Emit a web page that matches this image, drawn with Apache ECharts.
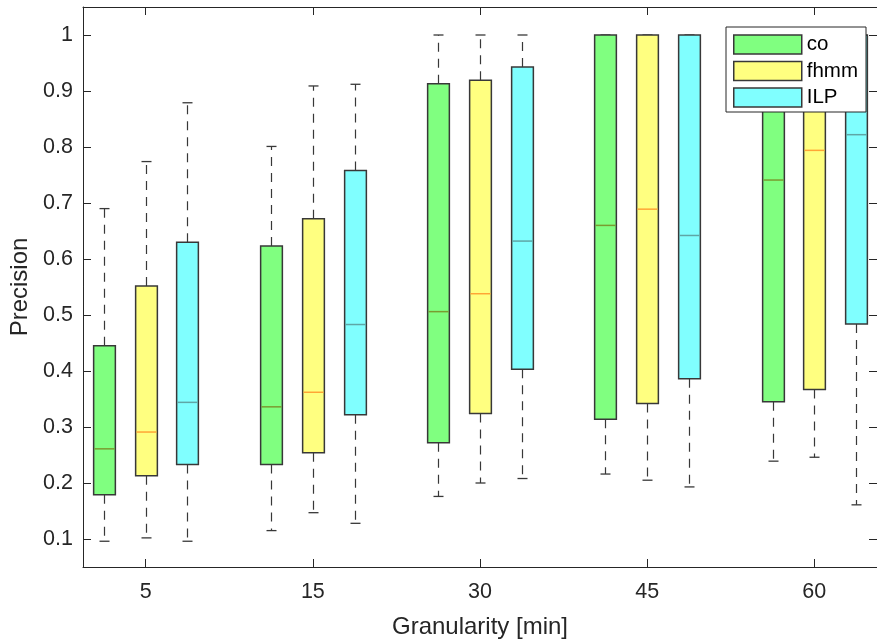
<!DOCTYPE html>
<html>
<head>
<meta charset="utf-8">
<script src="https://cdn.jsdelivr.net/npm/echarts@6/dist/echarts.min.js"></script>
<style>
html,body{margin:0;padding:0;background:#fff;}
#chart{width:877px;height:644px;}
</style>
</head>
<body>
<div id="chart"></div>
<script>
// ---- data ----
const categories = ['5', '15', '30', '45', '60'];
const seriesNames = ['co', 'fhmm', 'ILP'];
// each row: [min, q1, median, q3, max] for one granularity
const coStats = [
  [0.096, 0.179, 0.261, 0.445, 0.690],
  [0.115, 0.233, 0.336, 0.623, 0.801],
  [0.176, 0.272, 0.506, 0.913, 1.000],
  [0.216, 0.314, 0.660, 1.000, 1.000],
  [0.239, 0.345, 0.741, 1.000, 1.000]
];
const fhmmStats = [
  [0.102, 0.213, 0.291, 0.552, 0.774],
  [0.147, 0.254, 0.362, 0.672, 0.909],
  [0.200, 0.324, 0.538, 0.919, 1.000],
  [0.205, 0.342, 0.689, 1.000, 1.000],
  [0.246, 0.367, 0.794, 1.000, 1.000]
];
const ilpStats = [
  [0.096, 0.233, 0.344, 0.630, 0.879],
  [0.128, 0.322, 0.483, 0.758, 0.912],
  [0.208, 0.403, 0.632, 0.943, 1.000],
  [0.193, 0.386, 0.642, 1.000, 1.000],
  [0.161, 0.484, 0.822, 1.000, 1.000]
];
const yTicks = [0.1, 0.2, 0.3, 0.4, 0.5, 0.6, 0.7, 0.8, 0.9, 1];

// ---- styling ----
const fills = ['#80FF80', '#FFFF80', '#80FFFF'];
const medianColors = ['#7A9C30', '#FFA535', '#5FA6A6'];
const edge = '#383838';
const axisColor = '#262626';
const fontFam = '"Liberation Sans", Arial, Helvetica, sans-serif';

const allStats = [coStats, fhmmStats, ilpStats];
const slotsPerGroup = 4;
const tickPositions = categories.map((c, g) => g * slotsPerGroup + 2);
const posToLabel = {};
tickPositions.forEach((p, i) => { posToLabel[p] = categories[i]; });

function renderItem(params, api) {
  const pos = api.value(0);
  const mn = api.value(1), q1 = api.value(2), md = api.value(3), q3 = api.value(4), mx = api.value(5);
  const bw = api.size([1, 0])[0] * 0.52;
  const cw = 5;
  const pMin = api.coord([pos, mn]);
  const pQ1 = api.coord([pos, q1]);
  const pMd = api.coord([pos, md]);
  const pQ3 = api.coord([pos, q3]);
  const pMx = api.coord([pos, mx]);
  const x = Math.round(pMin[0]) + 0.5;
  const sIdx = params.seriesIndex;
  const whisk = { stroke: edge, lineWidth: 1.2, lineDash: [9, 7] };
  const cap = { stroke: edge, lineWidth: 1.3 };
  const children = [];
  if (pMx[1] < pQ3[1] - 0.5) {
    children.push({ type: 'line', shape: { x1: x, y1: pQ3[1], x2: x, y2: pMx[1] }, style: whisk });
  }
  children.push({ type: 'line', shape: { x1: x, y1: pQ1[1], x2: x, y2: pMin[1] }, style: whisk });
  children.push({ type: 'line', shape: { x1: x - cw, y1: pMx[1], x2: x + cw, y2: pMx[1] }, style: cap });
  children.push({ type: 'line', shape: { x1: x - cw, y1: pMin[1], x2: x + cw, y2: pMin[1] }, style: cap });
  children.push({
    type: 'rect',
    shape: { x: x - bw / 2, y: pQ3[1], width: bw, height: pQ1[1] - pQ3[1] },
    style: { fill: fills[sIdx], stroke: edge, lineWidth: 1.5 }
  });
  children.push({
    type: 'line',
    shape: { x1: x - bw / 2 + 0.8, y1: pMd[1], x2: x + bw / 2 - 0.8, y2: pMd[1] },
    style: { stroke: medianColors[sIdx], lineWidth: 1.5 }
  });
  return { type: 'group', children: children };
}

const series = seriesNames.map((name, s) => ({
  name: name,
  type: 'custom',
  renderItem: renderItem,
  xAxisIndex: 0,
  yAxisIndex: 0,
  itemStyle: { color: fills[s], borderColor: edge, borderWidth: 1 },
  encode: { x: 0, y: [1, 2, 3, 4, 5] },
  data: allStats[s].map((row, g) => [g * slotsPerGroup + s + 1].concat(row)),
  z: 3
}));

const chart = echarts.init(document.getElementById('chart'), null, { renderer: 'canvas' });
chart.setOption({
  animation: false,
  backgroundColor: '#ffffff',
  textStyle: { fontFamily: fontFam },
  grid: { left: 83, top: 7, width: 798, height: 560, containLabel: false },
  legend: {
    orient: 'vertical',
    left: 726,
    top: 27,
    icon: 'rect',
    itemWidth: 68,
    itemHeight: 19,
    itemGap: 5.5,
    padding: [7, 8, 4, 7],
    backgroundColor: '#ffffff',
    borderColor: '#262626',
    borderWidth: 1,
    textStyle: { fontSize: 20.5, color: '#000', fontFamily: fontFam },
    data: seriesNames.map((n, s) => ({
      name: n,
      itemStyle: { color: fills[s], borderColor: edge, borderWidth: 1.5 }
    })),
    z: 10
  },
  xAxis: [
    {
      type: 'value',
      min: 0.5,
      max: 19.5,
      position: 'bottom',
      name: 'Granularity [min]',
      nameLocation: 'middle',
      nameGap: 48,
      nameTextStyle: { fontSize: 24, color: axisColor, fontFamily: fontFam },
      axisLine: { show: true, lineStyle: { color: axisColor, width: 1 } },
      axisTick: { show: true, inside: true, length: 8, customValues: tickPositions, lineStyle: { color: axisColor } },
      axisLabel: {
        show: true, customValues: tickPositions, margin: 14,
        fontSize: 21.5, color: axisColor, fontFamily: fontFam,
        formatter: v => posToLabel[Math.round(v)] || ''
      },
      splitLine: { show: false }
    },
    {
      type: 'value',
      min: 0.5,
      max: 19.5,
      position: 'top',
      axisLine: { show: true, lineStyle: { color: axisColor, width: 1 } },
      axisTick: { show: true, inside: true, length: 8, customValues: tickPositions, lineStyle: { color: axisColor } },
      axisLabel: { show: false },
      splitLine: { show: false }
    }
  ],
  yAxis: [
    {
      type: 'value',
      min: 0.05,
      max: 1.05,
      position: 'left',
      name: 'Precision',
      nameLocation: 'middle',
      nameGap: 47,
      nameTextStyle: { fontSize: 24, color: axisColor, fontFamily: fontFam },
      axisLine: { show: true, lineStyle: { color: axisColor, width: 1 } },
      axisTick: { show: true, inside: true, length: 8, customValues: yTicks, lineStyle: { color: axisColor } },
      axisLabel: {
        show: true, customValues: yTicks, margin: 10,
        fontSize: 21.5, color: axisColor, fontFamily: fontFam,
        formatter: v => String(Math.round(v * 10) / 10)
      },
      splitLine: { show: false }
    },
    {
      type: 'value',
      min: 0.05,
      max: 1.05,
      position: 'right',
      axisLine: { show: true, lineStyle: { color: axisColor, width: 1 } },
      axisTick: { show: true, inside: true, length: 8, customValues: yTicks, lineStyle: { color: axisColor } },
      axisLabel: { show: false },
      splitLine: { show: false }
    }
  ],
  series: series
});
</script>
</body>
</html>
